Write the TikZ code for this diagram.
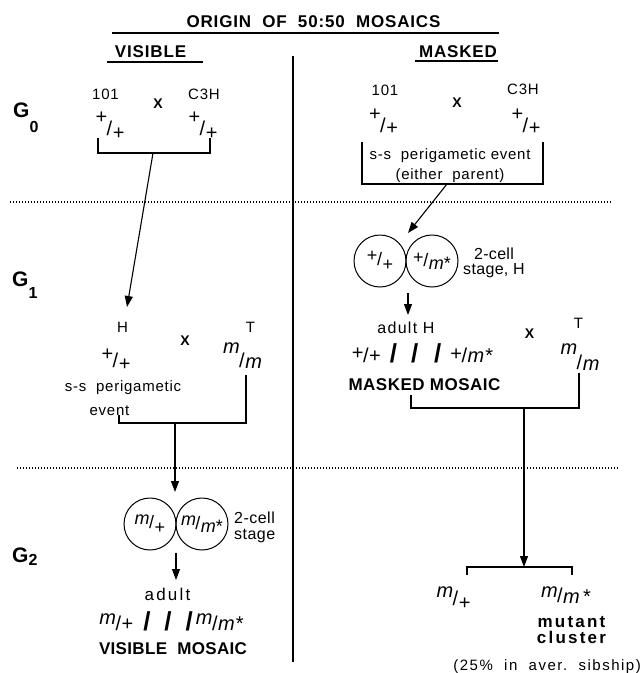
\documentclass[tikz,border=0pt]{standalone}
\usepackage{fontspec}
\setmainfont{Liberation Sans}
\usetikzlibrary{arrows.meta}
\newcommand\fr[4]{\raisebox{#3}{#1}\kern-0.5pt/\kern0.5pt\raisebox{-#4}{#2}}
\newcommand\mi{\textit{m}}
\newcommand\bsl{{\fontsize{26}{26}\selectfont\bfseries /}}
\newcommand\gsub[2]{\raisebox{-#1}{\fontsize{16}{16}\selectfont #2}}
\tikzset{
 lbl/.style={inner sep=0pt, anchor=base, font=\fontsize{15}{15}\selectfont\addfontfeature{LetterSpace=5}},
 lblw/.style={inner sep=0pt, anchor=base west, font=\fontsize{15}{15}\selectfont\addfontfeature{LetterSpace=5}},
 hd/.style={inner sep=0pt, anchor=base, font=\fontsize{17}{17}\selectfont\bfseries\addfontfeature{LetterSpace=5}},
 xlbl/.style={inner sep=0pt, anchor=base, font=\fontsize{14}{14}\selectfont\bfseries},
 gen/.style={inner sep=0pt, anchor=base west, font=\fontsize{21}{21}\selectfont\bfseries},
 frac/.style={inner sep=0pt, anchor=base, font=\fontsize{20}{20}\selectfont},
 cell/.style={circle, draw, minimum size=52pt, inner sep=0pt, line width=1pt, font=\fontsize{18}{18}\selectfont},
 conn/.style={line width=1.1pt},
 uline/.style={line width=2.2pt},
 arr/.style={line width=1.1pt, -{Triangle[length=11pt,width=8pt]}},
 dots/.style={line width=1.7pt, dash pattern=on 1.2pt off 1.8pt},
}
\begin{document}
\begin{tikzpicture}[x=1pt,y=-1pt]
\useasboundingbox (0,0) rectangle (641,673);
% headings
\node[hd] (title) at (313.5,27) {ORIGIN\ \ OF\ \ 50:50\ \ MOSAICS};
\draw[conn] (112,33) -- (499,33);
\node[hd] (vis) at (150.5,57) {VISIBLE};
\draw[uline] (107,62) -- (203,62);
\node[hd] (mas) at (458,57) {MASKED};
\draw[uline] (415,61) -- (498,61);
\draw[conn] (293,56) -- (293,662);
% generation labels
\node[gen] (g0) at (13,117) {G\gsub{15pt}{0}};
\node[gen] (g1) at (12,286) {G\gsub{12pt}{1}};
\node[gen] (g2) at (12,562) {G\gsub{3pt}{2}};
% dotted separators
\draw[dots] (10,202) -- (612,202);
\draw[dots] (17,468) -- (618,468);
% ---------- G0 visible
\node[lbl] (v101) at (105.5,99) {101};
\node[xlbl] (vx0) at (158,108) {X};
\node[lbl] (vc3h) at (204,99) {C3H};
\node[frac] (vpp1) at (110,135) {\fr{+}{+}{12pt}{4pt}};
\node[frac] (vpp2) at (203,135) {\fr{+}{+}{12pt}{4pt}};
\coordinate (vb0a) at (98,138);
\coordinate (vb0b) at (210,138);
\coordinate (vb0m) at (153,153);
\draw[conn] (vb0a) |- (vb0b |- vb0m) -- (vb0b);
% ---------- G0 masked
\node[lbl] (m101) at (385,95) {101};
\node[xlbl] (mx0) at (457,107) {X};
\node[lbl] (mc3h) at (523,94) {C3H};
\node[frac] (mpp1) at (383.5,132) {\fr{+}{+}{12pt}{2pt}};
\node[frac] (mpp2) at (526,132) {\fr{+}{+}{12pt}{2pt}};
\coordinate (mb0a) at (362,142);
\coordinate (mb0b) at (543,142);
\coordinate (mb0m) at (447,184);
\draw[conn] (mb0a) |- (mb0b |- mb0m) -- (mb0b);
\node[lbl,align=center,font=\fontsize{15}{20}\selectfont\addfontfeature{LetterSpace=5}] (mss) at (450,179) {s-s\ \ perigametic event\\(either\ \ parent)};
% ---------- G1 visible
\node[lbl] (vH) at (122.5,332) {H};
\node[xlbl] (vx1) at (185,345) {X};
\node[lbl] (vT) at (250.5,332) {T};
\coordinate (vHin) at (127,307);
\draw[arr] (vb0m) -- (vHin);
\node[frac] (vpp3) at (116,367) {\fr{+}{+}{7pt}{3pt}};
\node[frac] (vmm) at (242.5,367) {\fr{\mi}{\mi}{14pt}{1pt}};
\node[lbl] (vss) at (123,391) {s-s\ \ perigametic};
\node[lbl] (vev) at (109.5,415) {event};
\coordinate (vb1a) at (119,415);
\coordinate (vb1b) at (246,375);
\coordinate (vb1m) at (175,423);
\draw[conn] (vb1a) |- (vb1b |- vb1m) -- (vb1b);
% ---------- G1 masked
\node[cell] (mc1) at (380,261) {\fr{+}{+}{4pt}{5pt}};
\node[cell] (mc2) at (432,261) {\fr{+}{\mi*}{3pt}{3pt}};
\coordinate (mcin) at (408,233);
\draw[arr] (mb0m) -- (mcin);
\node[lbl,align=center,font=\fontsize{16}{15}\selectfont\addfontfeature{LetterSpace=2}] (m2c) at (494,274) {2-cell\\stage,\ H};
\coordinate (mcb) at (408,293);
\coordinate (mHin) at (408,315);
\draw[arr] (mcb) -- (mHin);
\node[lbl,font=\fontsize{16}{16}\selectfont\addfontfeature{LetterSpace=8}] (madH) at (406,333) {adult\ H};
\node[xlbl] (mx1) at (529.5,338) {X};
\node[lbl] (mT) at (578.5,328) {T};
\node[frac] (mrow) at (422.5,362) {\fr{+}{+}{3pt}{0pt}\hspace{9pt}\bsl\hspace{14pt}\bsl\hspace{16pt}\bsl\hspace{9pt}\fr{+}{\mi\kern1pt*}{2pt}{0pt}};
\node[frac] (mmm) at (580,369) {\fr{\mi}{\mi}{15pt}{1pt}};
\node[hd,font=\fontsize{17}{17}\selectfont\bfseries\addfontfeature{LetterSpace=3}] (mmos) at (424.5,390) {MASKED MOSAIC};
\coordinate (mb1a) at (411,395);
\coordinate (mb1b) at (579,373);
\coordinate (mb1m) at (524,408);
\draw[conn] (mb1a) |- (mb1b |- mb1m) -- (mb1b);
% ---------- G2 visible
\coordinate (vc1in) at (175,492);
\draw[arr] (vb1m) -- (vc1in);
\node[cell] (vc1) at (150,524) {\fr{\mi}{+}{4pt}{5pt}};
\node[cell] (vc2) at (202,524) {\fr{\mi}{\mi*}{4pt}{3pt}};
\node[lbl,anchor=base west,align=left,font=\fontsize{16}{15.5}\selectfont\addfontfeature{LetterSpace=3}] (v2c) at (234,539) {2-cell\\stage};
\coordinate (vcb) at (176,553);
\coordinate (vadin) at (176,580);
\draw[arr] (vcb) -- (vadin);
\node[lbl,font=\fontsize{17}{17}\selectfont\addfontfeature{LetterSpace=13}] (vad) at (167.5,600) {adult};
\node[frac] (vrow) at (171.5,630) {\fr{\mi}{+}{6pt}{0pt}\hspace{10pt}\bsl\hspace{14pt}\bsl\hspace{14pt}\bsl\kern3pt\fr{\mi}{\mi\kern1pt*}{6pt}{0pt}};
\node[hd,font=\fontsize{17}{17}\selectfont\bfseries\addfontfeature{LetterSpace=2}] (vmos) at (173,654) {VISIBLE\ \ MOSAIC};
% ---------- G2 masked
\coordinate (mkin) at (524,567);
\draw[arr] (mb1m) -- (mkin);
\coordinate (mk2a) at (467,575);
\coordinate (mk2b) at (572,575);
\draw[conn] (mk2a) |- (mk2b |- mkin) -- (mk2b);
\node[frac] (mmp) at (453.5,605) {\fr{\mi}{+}{8pt}{4pt}};
\node[frac] (mmmst) at (566,602) {\fr{\mi}{\mi\,*}{5pt}{1pt}};
\node[lbl,align=center,font=\fontsize{17}{16}\selectfont\bfseries\addfontfeature{LetterSpace=13}] (mmut) at (571.5,643) {mutant\\cluster};
\node[lbl,anchor=base east,font=\fontsize{15}{15}\selectfont\addfontfeature{LetterSpace=10}] (mpct) at (641,670) {(25\%\ \ in\ \ aver.\ \ sibship)};
\end{tikzpicture}
\end{document}
